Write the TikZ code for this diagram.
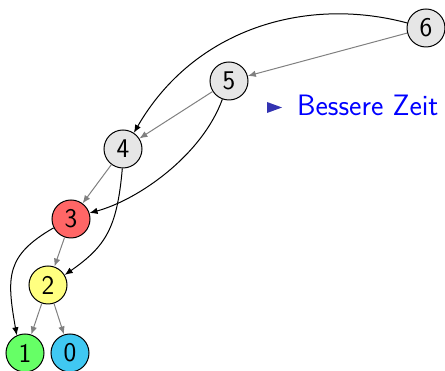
\documentclass[tikz,border=0pt]{standalone}
\usepackage{fontspec}
\usetikzlibrary{arrows.meta}
\definecolor{nodegray}{RGB}{230,230,230}
\definecolor{nodered}{RGB}{255,102,102}
\definecolor{nodeyellow}{RGB}{255,255,128}
\definecolor{nodegreen}{RGB}{102,255,102}
\definecolor{nodecyan}{RGB}{64,200,242}
\definecolor{bulletblue}{RGB}{51,51,178}
\definecolor{textblue}{RGB}{0,0,255}
\tikzset{
  vtx/.style={circle, draw=black, line width=1pt, minimum size=38pt, inner sep=0pt,
    font=\fontsize{27}{30}\selectfont\sffamily},
  gedge/.style={draw=gray, line width=1pt, -{Latex[length=8pt,width=6.5pt]}},
  bedge/.style={draw=black, line width=1pt, -{Latex[length=8pt,width=6.5pt]}},
}
\begin{document}
\begin{tikzpicture}[x=1pt,y=1pt]
\useasboundingbox (0,0) rectangle (445,371);
\node[vtx, fill=nodegray]   (n6) at (426,343) {6};
\node[vtx, fill=nodegray]   (n5) at (229,290) {5};
\node[vtx, fill=nodegray]   (n4) at (123,222) {4};
\node[vtx, fill=nodered]    (n3) at (71,152) {3};
\node[vtx, fill=nodeyellow] (n2) at (48,86) {2};
\node[vtx, fill=nodegreen]  (n1) at (25,18) {1};
\node[vtx, fill=nodecyan]   (n0) at (70,18) {0};
% straight gray edges
\draw[gedge] (n6) -- (n5);
\draw[gedge] (n5) -- (n4);
\draw[gedge] (n4) -- (n3);
\draw[gedge] (n3) -- (n2);
\draw[gedge] (n2) -- (n1);
\draw[gedge] (n2) -- (n0);
% curved black edges
\draw[bedge] (n6.165) .. controls +(165:105) and +(60:120) .. (n4.56);
\draw[bedge] (n5.250) .. controls +(250:60) and +(15:50) .. (n3.18);
\draw[bedge] (n4.268) .. controls +(265:60) and +(35:50) .. (n2.31);
\draw[bedge] (n3.207) .. controls +(210:55) and +(100:60) .. (n1.115);
% bullet and text
\fill[bulletblue] (267,269) -- (282,263.5) -- (267,258) -- cycle;
\node[anchor=base west, inner sep=0pt, text=textblue,
  font=\fontsize{29.5}{33}\selectfont\sffamily] (txt) at (297,255) {Bessere Zeit};
\end{tikzpicture}
\end{document}
